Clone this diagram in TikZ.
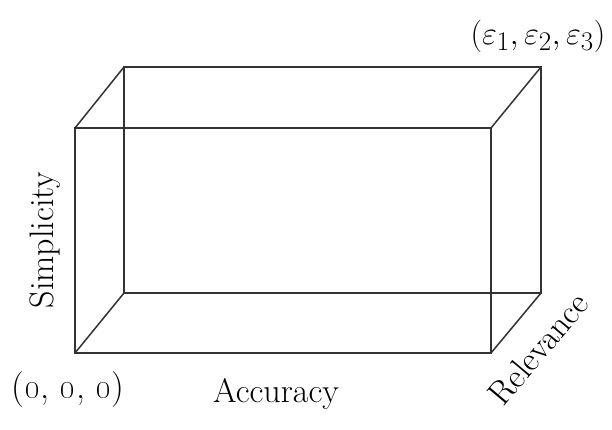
\documentclass[tikz,border=0pt]{standalone}
\begin{document}
\begin{tikzpicture}[x=1pt,y=-1pt,
  edge/.style={draw=black!80,line width=1.5pt},
  lbl/.style={font=\fontsize{34}{40}\selectfont,inner sep=0pt,text=black}]
\useasboundingbox (0,0) rectangle (612,429);
% front face
\coordinate (fbl) at (75,353);
\coordinate (fbr) at (491,353);
\coordinate (ftl) at (75,128);
\coordinate (ftr) at (491,128);
% back face
\coordinate (bbl) at (124,293);
\coordinate (bbr) at (541,293);
\coordinate (btl) at (124,67);
\coordinate (btr) at (541,67);
\draw[edge] (fbl) -- (fbr) -- (ftr) -- (ftl) -- cycle;
\draw[edge] (bbl) -- (bbr) -- (btr) -- (btl) -- cycle;
\draw[edge] (fbl) -- (bbl);
\draw[edge] (fbr) -- (bbr);
\draw[edge] (ftl) -- (btl);
\draw[edge] (ftr) -- (btr);
% labels
\node[lbl,anchor=base] (acc) at (276,402) {Accuracy};
\node[lbl,anchor=base,rotate=90] (sim) at (53,240) {Simplicity};
\node[lbl,rotate=50] (rel) at (538,349) {Relevance};
\node[lbl,font=\fontsize{36}{42}\selectfont] (orig) at (68,390) {(\oldstylenums{0}, \oldstylenums{0}, \oldstylenums{0})};
\node[lbl,font=\fontsize{24.88}{30}\selectfont,scale=1.3] (eps) at (538,36) {$(\varepsilon_1, \varepsilon_2, \varepsilon_3)$};
\end{tikzpicture}
\end{document}
